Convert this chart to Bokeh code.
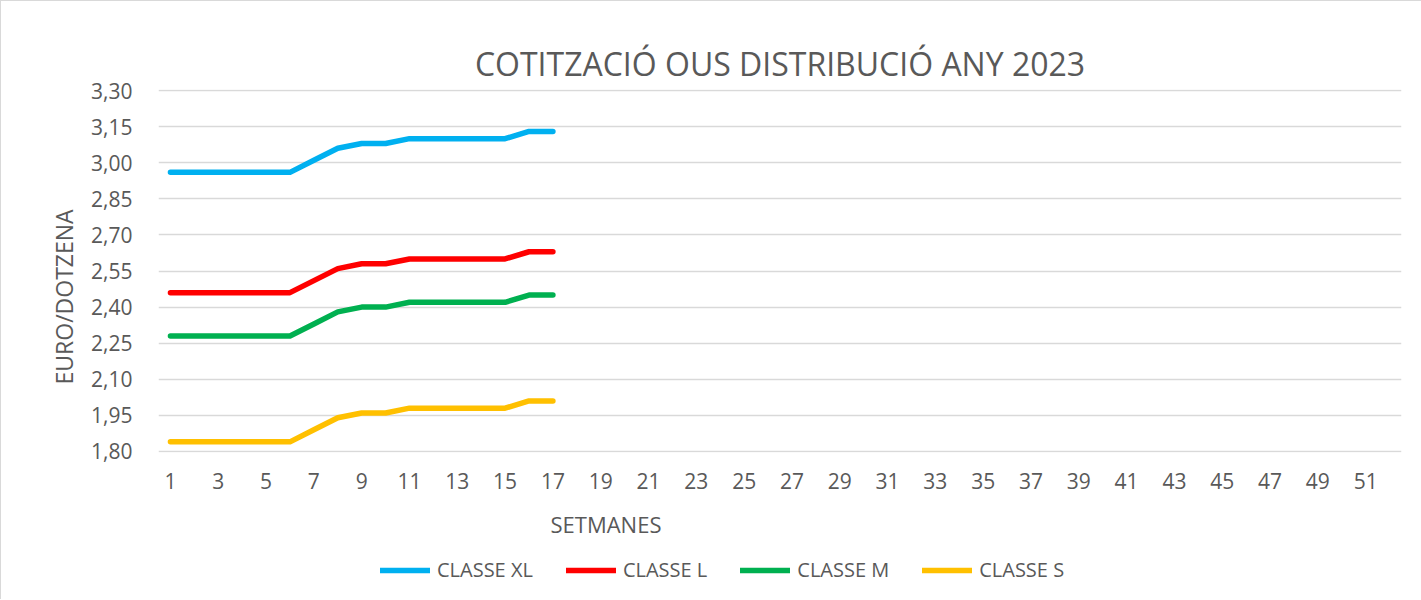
from bokeh.plotting import figure
from bokeh.layouts import column
from bokeh.models import (Range1d, FixedTicker, CustomJSTickFormatter, Title,
                          Legend, LegendItem)
from bokeh.embed import file_html
from bokeh.resources import INLINE

# ---- data ----
weeks = [1, 2, 3, 4, 5, 6, 7, 8, 9, 10, 11, 12, 13, 14, 15, 16, 17]
classe_xl = [2.96, 2.96, 2.96, 2.96, 2.96, 2.96, 3.01, 3.06, 3.08, 3.08, 3.10, 3.10, 3.10, 3.10, 3.10, 3.13, 3.13]
classe_l = [2.46, 2.46, 2.46, 2.46, 2.46, 2.46, 2.51, 2.56, 2.58, 2.58, 2.60, 2.60, 2.60, 2.60, 2.60, 2.63, 2.63]
classe_m = [2.28, 2.28, 2.28, 2.28, 2.28, 2.28, 2.33, 2.38, 2.40, 2.40, 2.42, 2.42, 2.42, 2.42, 2.42, 2.45, 2.45]
classe_s = [1.84, 1.84, 1.84, 1.84, 1.84, 1.84, 1.89, 1.94, 1.96, 1.96, 1.98, 1.98, 1.98, 1.98, 1.98, 2.01, 2.01]

series_names = ["CLASSE XL", "CLASSE L", "CLASSE M", "CLASSE S"]
series_colors = ["#00B0F0", "#FF0000", "#00B050", "#FFC000"]

x_ticks = [1, 3, 5, 7, 9, 11, 13, 15, 17, 19, 21, 23, 25, 27, 29, 31, 33, 35,
           37, 39, 41, 43, 45, 47, 49, 51]
y_ticks = [1.80, 1.95, 2.10, 2.25, 2.40, 2.55, 2.70, 2.85, 3.00, 3.15, 3.30]

TITLE = "COTITZACIÓ OUS DISTRIBUCIÓ ANY 2023"
X_LABEL = "SETMANES"
Y_LABEL = "EURO/DOTZENA"

TXT = "#595959"
GRID = "#D9D9D9"
FONT = "Open Sans"
SERIES = [classe_xl, classe_l, classe_m, classe_s]

p = figure(width=1421, height=555,
           x_range=Range1d(0.5, 52.5), y_range=Range1d(1.7958, 3.3042),
           output_backend="svg", toolbar_location=None,
           min_border_left=157, min_border_right=21,
           min_border_top=88, min_border_bottom=104)
p.outline_line_color = None
p.background_fill_color = "white"
p.border_fill_color = "white"

# title
p.title.text = TITLE
p.title.align = "center"
p.title.offset = 4
p.title.standoff = 9
p.title.text_font = FONT
p.title.text_font_size = "32px"
p.title.text_font_style = "normal"
p.title.text_color = TXT

# axes
p.xaxis.ticker = FixedTicker(ticks=x_ticks)
p.xaxis.axis_line_color = None
p.xaxis.major_tick_line_color = None
p.xaxis.minor_tick_line_color = None
p.xaxis.major_label_standoff = 14
p.xaxis.major_label_text_font = FONT
p.xaxis.major_label_text_font_size = "21px"
p.xaxis.major_label_text_color = TXT

p.yaxis.ticker = FixedTicker(ticks=y_ticks)
p.yaxis.formatter = CustomJSTickFormatter(code="return tick.toFixed(2).replace('.', ',');")
p.yaxis.axis_line_color = None
p.yaxis.major_tick_line_color = None
p.yaxis.minor_tick_line_color = None
p.yaxis.major_label_standoff = 20
p.yaxis.major_label_text_font = FONT
p.yaxis.major_label_text_font_size = "21px"
p.yaxis.major_label_text_color = TXT

p.xgrid.grid_line_color = None
p.ygrid.ticker = FixedTicker(ticks=y_ticks)
p.ygrid.grid_line_color = GRID
p.ygrid.grid_line_width = 1.3

# series
for vals, color in zip(SERIES, series_colors):
    p.line(weeks, vals, line_color=color, line_width=5.5,
           line_cap="round", line_join="round")

# axis titles (side-panel titles so they can be offset like the original)
p.add_layout(Title(text=Y_LABEL, align="left", offset=68, standoff=17,
                   text_font=FONT, text_font_size="23px",
                   text_font_style="normal", text_color=TXT), "left")
p.add_layout(Title(text=X_LABEL, align="left", offset=392, standoff=31,
                   text_font=FONT, text_font_size="22px",
                   text_font_style="normal", text_color=TXT), "below")

# legend strip (separate small figure under the chart; its copies of the
# series lie outside its visible range, only the legend shows)
lg = figure(width=1421, height=43, x_range=Range1d(-1, 0), y_range=Range1d(0, 1),
            output_backend="svg", toolbar_location=None,
            x_axis_type=None, y_axis_type=None,
            min_border_left=0, min_border_right=0,
            min_border_top=0, min_border_bottom=0)
lg.outline_line_color = None
lg.xgrid.grid_line_color = None
lg.ygrid.grid_line_color = None
lg_renderers = []
for vals, color in zip(SERIES, series_colors):
    lg_renderers.append(lg.line(weeks, vals, line_color=color, line_width=5.5,
                                line_cap="round", line_join="round"))

legend = Legend(items=[LegendItem(label=n, renderers=[r]) for n, r in zip(series_names, lg_renderers)],
                orientation="horizontal", location=(222, 16),
                glyph_width=50, glyph_height=24, label_height=24,
                label_standoff=7, spacing=33, padding=0, margin=0,
                border_line_color=None, background_fill_alpha=0,
                label_text_font=FONT, label_text_font_size="20px",
                label_text_color=TXT)
lg.add_layout(legend)

layout = column(p, lg, spacing=0,
                styles={"border-top": "1px solid #D9D9D9",
                        "border-left": "1px solid #D9D9D9"})

open("out.html", "w").write(file_html(layout, INLINE))
